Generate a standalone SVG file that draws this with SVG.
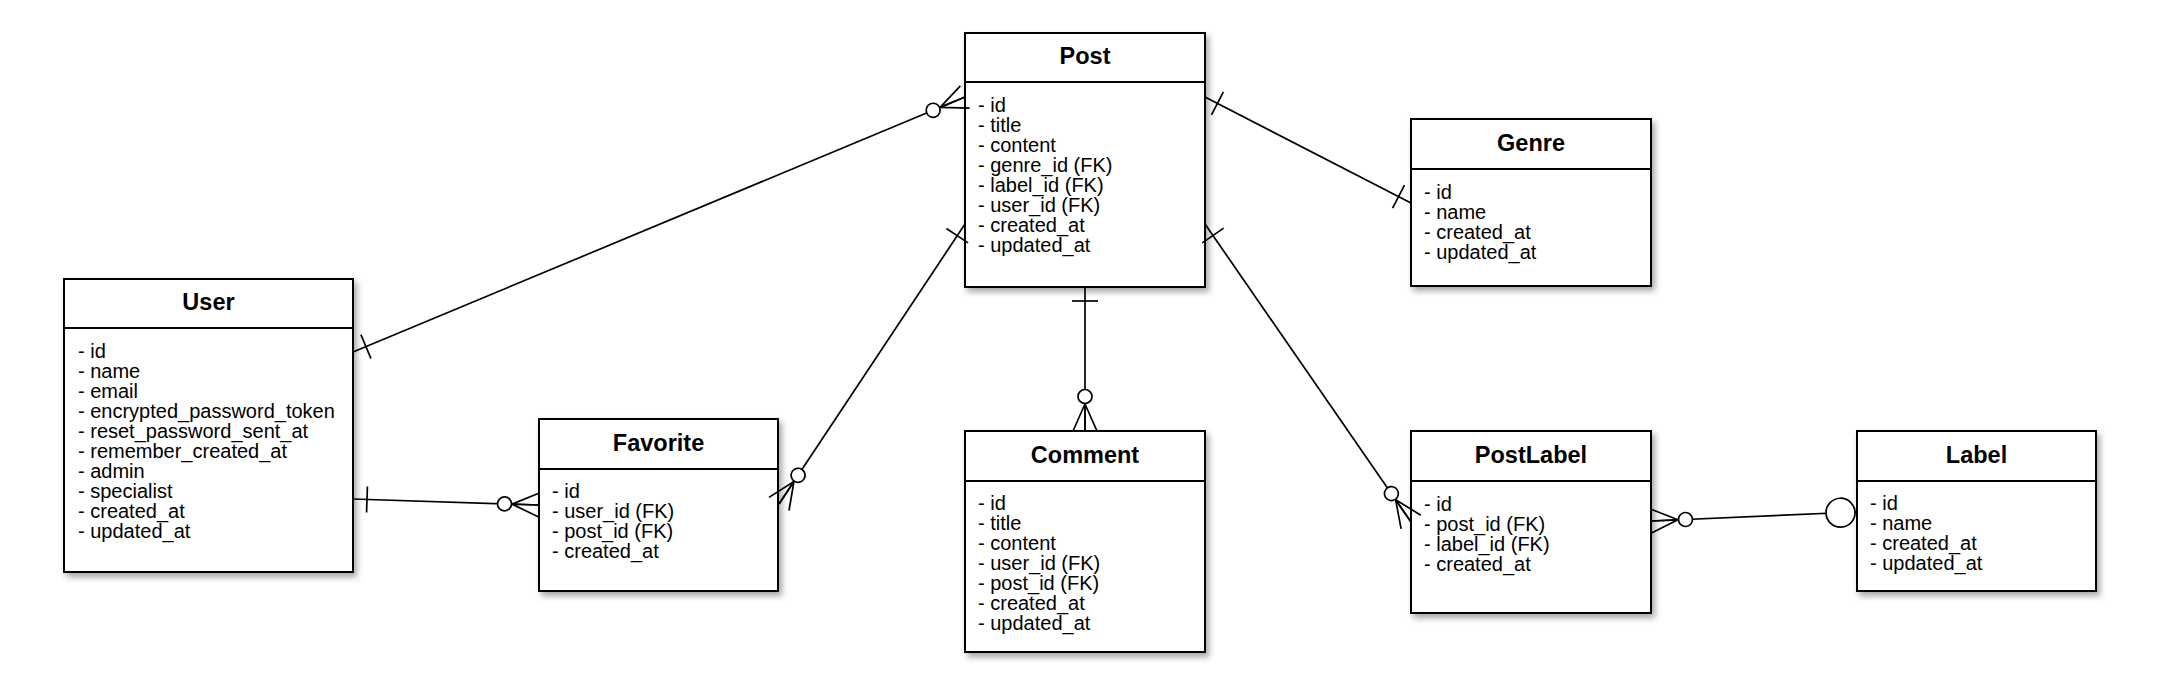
<svg xmlns="http://www.w3.org/2000/svg" width="2168" height="688" viewBox="0 0 2168 688">
<style>
.box{fill:#fff;stroke:#000;stroke-width:2;}
.sep{stroke:#000;stroke-width:2;}
.title{font-family:"Liberation Sans",Arial,sans-serif;font-weight:bold;font-size:23.5px;text-anchor:middle;fill:#000;}
.attr{font-family:"Liberation Sans",Arial,sans-serif;font-size:20px;fill:#000;}
.edge{fill:none;stroke:#000;stroke-width:1.7;}
</style>
<defs>
<filter id="sh" x="-10%" y="-10%" width="130%" height="130%">
<feDropShadow dx="3" dy="4" stdDeviation="3" flood-color="#000" flood-opacity="0.35"/>
</filter>
<marker id="one" markerUnits="userSpaceOnUse" orient="auto-start-reverse" refX="0" refY="0" markerWidth="60" markerHeight="60" overflow="visible">
<line x1="-14" y1="-13" x2="-14" y2="13" stroke="#000" stroke-width="1.7"/>
</marker>
<marker id="zmany" markerUnits="userSpaceOnUse" orient="auto-start-reverse" refX="0" refY="0" markerWidth="60" markerHeight="60" overflow="visible">
<path d="M-27,0 L0,-12 M-27,0 L0,0 M-27,0 L0,12" fill="none" stroke="#000" stroke-width="1.7"/>
<circle cx="-34.5" cy="0" r="7" fill="#fff" stroke="#000" stroke-width="1.7"/>
</marker>
<marker id="oval" markerUnits="userSpaceOnUse" orient="auto-start-reverse" refX="0" refY="0" markerWidth="60" markerHeight="60" overflow="visible">
<circle cx="-16.5" cy="0" r="14.5" fill="#fff" stroke="#000" stroke-width="1.7"/>
</marker>
</defs>
<rect width="2168" height="688" fill="#fff"/>

<g id="node-post">
<rect class="box" x="965" y="33" width="240" height="254" filter="url(#sh)"/>
<line class="sep" x1="965" y1="82" x2="1205" y2="82"/>
<text class="title" x="1085" y="64">Post</text>
<text class="attr" x="978" y="112">- id</text>
<text class="attr" x="978" y="132">- title</text>
<text class="attr" x="978" y="152">- content</text>
<text class="attr" x="978" y="172">- genre_id (FK)</text>
<text class="attr" x="978" y="192">- label_id (FK)</text>
<text class="attr" x="978" y="212">- user_id (FK)</text>
<text class="attr" x="978" y="232">- created_at</text>
<text class="attr" x="978" y="252">- updated_at</text>
</g>

<g id="node-user">
<rect class="box" x="64" y="279" width="289" height="293" filter="url(#sh)"/>
<line class="sep" x1="64" y1="328" x2="353" y2="328"/>
<text class="title" x="208.5" y="310">User</text>
<text class="attr" x="78" y="358">- id</text>
<text class="attr" x="78" y="378">- name</text>
<text class="attr" x="78" y="398">- email</text>
<text class="attr" x="78" y="418">- encrypted_password_token</text>
<text class="attr" x="78" y="438">- reset_password_sent_at</text>
<text class="attr" x="78" y="458">- remember_created_at</text>
<text class="attr" x="78" y="478">- admin</text>
<text class="attr" x="78" y="498">- specialist</text>
<text class="attr" x="78" y="518">- created_at</text>
<text class="attr" x="78" y="538">- updated_at</text>
</g>

<g id="node-favorite">
<rect class="box" x="539" y="419" width="239" height="172" filter="url(#sh)"/>
<line class="sep" x1="539" y1="469" x2="778" y2="469"/>
<text class="title" x="658.5" y="451">Favorite</text>
<text class="attr" x="552" y="498">- id</text>
<text class="attr" x="552" y="518">- user_id (FK)</text>
<text class="attr" x="552" y="538">- post_id (FK)</text>
<text class="attr" x="552" y="558">- created_at</text>
</g>

<g id="node-genre">
<rect class="box" x="1411" y="119" width="240" height="167" filter="url(#sh)"/>
<line class="sep" x1="1411" y1="169" x2="1651" y2="169"/>
<text class="title" x="1531" y="151">Genre</text>
<text class="attr" x="1424" y="199">- id</text>
<text class="attr" x="1424" y="219">- name</text>
<text class="attr" x="1424" y="239">- created_at</text>
<text class="attr" x="1424" y="259">- updated_at</text>
</g>

<g id="node-comment">
<rect class="box" x="965" y="431" width="240" height="221" filter="url(#sh)"/>
<line class="sep" x1="965" y1="481" x2="1205" y2="481"/>
<text class="title" x="1085" y="463">Comment</text>
<text class="attr" x="978" y="510">- id</text>
<text class="attr" x="978" y="530">- title</text>
<text class="attr" x="978" y="550">- content</text>
<text class="attr" x="978" y="570">- user_id (FK)</text>
<text class="attr" x="978" y="590">- post_id (FK)</text>
<text class="attr" x="978" y="610">- created_at</text>
<text class="attr" x="978" y="630">- updated_at</text>
</g>

<g id="node-postlabel">
<rect class="box" x="1411" y="431" width="240" height="182" filter="url(#sh)"/>
<line class="sep" x1="1411" y1="481" x2="1651" y2="481"/>
<text class="title" x="1531" y="463">PostLabel</text>
<text class="attr" x="1424" y="511">- id</text>
<text class="attr" x="1424" y="531">- post_id (FK)</text>
<text class="attr" x="1424" y="551">- label_id (FK)</text>
<text class="attr" x="1424" y="571">- created_at</text>
</g>

<g id="node-label">
<rect class="box" x="1857" y="431" width="239" height="160" filter="url(#sh)"/>
<line class="sep" x1="1857" y1="481" x2="2096" y2="481"/>
<text class="title" x="1976.5" y="463">Label</text>
<text class="attr" x="1870" y="510">- id</text>
<text class="attr" x="1870" y="530">- name</text>
<text class="attr" x="1870" y="550">- created_at</text>
<text class="attr" x="1870" y="570">- updated_at</text>
</g>

<g id="connectors">
<path class="edge" d="M353,352 L965,97" marker-start="url(#one)" marker-end="url(#zmany)"/>
<path class="edge" d="M353,499 L539,505" marker-start="url(#one)" marker-end="url(#zmany)"/>
<path class="edge" d="M965,224 L779,504" marker-start="url(#one)" marker-end="url(#zmany)"/>
<path class="edge" d="M1205,97 L1411,203" marker-start="url(#one)" marker-end="url(#one)"/>
<path class="edge" d="M1085,287 L1085,431" marker-start="url(#one)" marker-end="url(#zmany)"/>
<path class="edge" d="M1205,224 L1411,522" marker-start="url(#one)" marker-end="url(#zmany)"/>
<path class="edge" d="M1651,521 L1857,512" marker-start="url(#zmany)" marker-end="url(#oval)"/>
</g>
</svg>
